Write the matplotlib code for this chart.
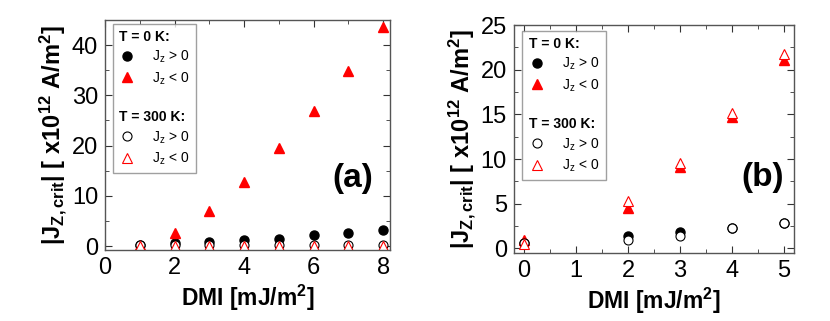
import matplotlib
matplotlib.use("Agg")
import matplotlib.pyplot as plt
from matplotlib.lines import Line2D
from matplotlib.ticker import MultipleLocator

plt.rcParams["font.family"] = ["Liberation Sans", "DejaVu Sans"]
plt.rcParams["mathtext.fontset"] = "custom"
plt.rcParams["mathtext.rm"] = "Liberation Sans"
plt.rcParams["mathtext.it"] = "Liberation Sans"
plt.rcParams["mathtext.bf"] = "Liberation Sans:bold"

# panel (a)
dmi_a = [1, 2, 3, 4, 5, 6, 7, 8]
a_0k_pos = [0.3, 0.65, 0.85, 1.2, 1.5, 2.1, 2.65, 3.2]
a_0k_neg = [0.3, 2.6, 6.9, 12.7, 19.5, 26.8, 34.8, 43.5]
a_300k_pos = [0.3, 0.2, 0.15, 0.15, 0.15, 0.15, 0.15, 0.15]
a_300k_neg = [0.1, 0.1, 0.1, 0.1, 0.1, 0.1, 0.1, 0.1]

# panel (b)
dmi_b = [0, 2, 3, 4, 5]
b_0k_pos = [0.6, 1.45, 1.85, 2.25, 2.9]
b_0k_neg = [0.9, 4.5, 9.1, 14.7, 21.1]
b_300k_pos = [0.6, 1.0, 1.45, 2.25, 2.9]
b_300k_neg = [0.45, 5.3, 9.6, 15.2, 21.8]

RED = "#ff0000"
ylabel = r"$\mathbf{|J_{Z,crit}|\ [\ x10^{12}\ A/m^2]}$"
xlabel = r"$\mathbf{DMI\ [mJ/m^2]}$"

fig = plt.figure(figsize=(8.3, 3.21), dpi=100)
ax_a = fig.add_axes([0.1265, 0.221, 0.3435, 0.717])
ax_b = fig.add_axes([0.619, 0.212, 0.338, 0.710])


def draw(ax, x, p0, n0, p3, n3):
    ax.plot(x, p0, "o", color="black", ms=6.5, ls="none")
    ax.plot(x, n0, "^", color=RED, ms=7.5, ls="none")
    ax.plot(x, p3, "o", mfc="white", mec="black", mew=0.8, ms=6.5, ls="none")
    ax.plot(x, n3, "^", mfc="white", mec=RED, mew=0.8, ms=7.5, ls="none")


def style(ax):
    for s in ax.spines.values():
        s.set_color("#555555")
        s.set_linewidth(1.0)
    ax.tick_params(which="both", direction="in", top=True, right=True,
                   labelsize=17, colors="#333333", labelcolor="black", pad=5)
    ax.tick_params(which="major", length=5)
    ax.tick_params(which="minor", length=3)
    ax.set_xlabel(xlabel, fontsize=16.5, labelpad=3)
    ax.set_ylabel(ylabel, fontsize=17, labelpad=2)


def legend(ax, loc_box):
    blank = Line2D([], [], ls="none")
    handles = [
        blank,
        Line2D([], [], marker="o", color="black", ls="none", ms=6.5),
        Line2D([], [], marker="^", color=RED, ls="none", ms=7.5),
        blank,
        blank,
        Line2D([], [], marker="o", mfc="white", mec="black", mew=0.8, ls="none", ms=6.5),
        Line2D([], [], marker="^", mfc="white", mec=RED, mew=0.8, ls="none", ms=7.5),
    ]
    labels = ["T = 0 K:", r"$\mathrm{J_z}$ > 0", r"$\mathrm{J_z}$ < 0", " ",
              "T = 300 K:", r"$\mathrm{J_z}$ > 0", r"$\mathrm{J_z}$ < 0"]
    leg = ax.legend(handles, labels, loc="upper left", bbox_to_anchor=loc_box,
                    fontsize=10, frameon=True, fancybox=False, edgecolor="#888888",
                    handlelength=1.2, handletextpad=1.2, labelspacing=0.35,
                    borderpad=0.45, borderaxespad=0)
    leg.get_frame().set_linewidth(1.0)
    texts = leg.get_texts()
    for i in (0, 4):
        texts[i].set_fontweight("bold")
    # pull the section titles to the left edge of the box
    col = leg._legend_handle_box.get_children()[0]
    for i, row in enumerate(col.get_children()):
        if i in (0, 4):
            row.sep = 0
            row.get_children()[0].width = 0
    return leg


draw(ax_a, dmi_a, a_0k_pos, a_0k_neg, a_300k_pos, a_300k_neg)
style(ax_a)
ax_a.set_xlim(0, 8.2)
ax_a.set_ylim(-0.8, 45)
ax_a.xaxis.set_major_locator(MultipleLocator(2))
ax_a.xaxis.set_minor_locator(MultipleLocator(1))
ax_a.yaxis.set_major_locator(MultipleLocator(10))
ax_a.yaxis.set_minor_locator(MultipleLocator(5))
legend(ax_a, (0.027, 0.983))
ax_a.text(0.87, 0.31, "(a)", transform=ax_a.transAxes, fontsize=24,
          fontweight="bold", ha="center", va="center")

draw(ax_b, dmi_b, b_0k_pos, b_0k_neg, b_300k_pos, b_300k_neg)
style(ax_b)
ax_b.set_xlim(-0.2, 5.2)
ax_b.set_ylim(-0.5, 25)
ax_b.xaxis.set_major_locator(MultipleLocator(1))
ax_b.xaxis.set_minor_locator(MultipleLocator(0.5))
ax_b.yaxis.set_major_locator(MultipleLocator(5))
ax_b.yaxis.set_minor_locator(MultipleLocator(2.5))
legend(ax_b, (0.031, 0.974))
ax_b.text(0.886, 0.33, "(b)", transform=ax_b.transAxes, fontsize=24,
          fontweight="bold", ha="center", va="center")

fig.savefig("out.png", dpi=100)
